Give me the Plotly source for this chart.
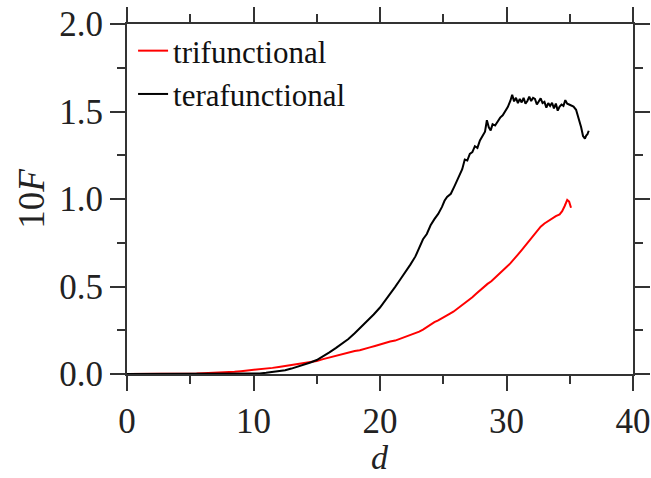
import plotly.graph_objects as go

# Force F versus separation d for two crosslinker functionalities
d_tri = [0, 1, 2, 3, 4, 5, 5.5, 6, 6.5, 7, 7.5, 8, 8.5, 9, 9.5, 10, 10.5, 11, 11.5, 12,
         12.5, 13, 13.5, 14, 14.5, 15, 15.5, 16, 16.4, 16.8, 17.2, 17.6, 18, 18.4, 18.8,
         19.2, 19.6, 20, 20.4, 20.8, 21.2, 21.6, 22, 22.4, 22.8, 23.1, 23.4, 23.7, 24,
         24.3, 24.6, 24.9, 25.2, 25.5, 25.8, 26.1, 26.4, 26.7, 27.0, 27.3, 27.6, 27.9,
         28.2, 28.5, 28.8, 29.1, 29.4, 29.7, 30.0, 30.3, 30.6, 30.9, 31.2, 31.5, 31.8,
         32.1, 32.4, 32.7, 33.0, 33.3, 33.6, 33.9, 34.2, 34.4, 34.6, 34.8, 34.95, 35.1]
F_tri = [0.000, 0.000, 0.000, 0.000, 0.001, 0.002, 0.003, 0.005, 0.006, 0.008, 0.009,
         0.011, 0.013, 0.016, 0.019, 0.022, 0.026, 0.030, 0.035, 0.040, 0.045, 0.050,
         0.055, 0.060, 0.066, 0.074, 0.085, 0.095, 0.100, 0.110, 0.116, 0.123, 0.131,
         0.136, 0.146, 0.152, 0.160, 0.170, 0.176, 0.186, 0.191, 0.202, 0.212, 0.221,
         0.236, 0.242, 0.254, 0.268, 0.284, 0.296, 0.306, 0.320, 0.330, 0.344, 0.356,
         0.372, 0.386, 0.404, 0.420, 0.438, 0.458, 0.478, 0.494, 0.515, 0.530, 0.552,
         0.570, 0.590, 0.612, 0.632, 0.655, 0.682, 0.708, 0.735, 0.762, 0.790, 0.818,
         0.842, 0.860, 0.875, 0.890, 0.902, 0.912, 0.930, 0.960, 0.995, 0.985, 0.950,
         0.960, 0.950]

d_tetra = [0, 2, 4, 6, 8, 9, 10, 10.5, 11, 11.5, 12, 12.5, 13, 13.5, 14, 14.5, 15, 15.5,
           16, 16.5, 17, 17.5, 18, 18.5, 19, 19.5, 20, 20.4, 20.8, 21.2, 21.6, 22, 22.4,
           22.8, 23.1, 23.4, 23.7, 24, 24.3, 24.6, 24.9, 25.1, 25.3, 25.6, 25.9, 26.2,
           26.5, 26.7, 26.9, 27.1, 27.3, 27.5, 27.7, 27.9, 28.1, 28.3, 28.45, 28.6, 28.75,
           28.9, 29.1, 29.3, 29.5, 29.7, 29.9, 30.1, 30.3, 30.45, 30.6, 30.75, 30.9, 31.05,
           31.2, 31.35, 31.5, 31.65, 31.8, 31.95, 32.1, 32.25, 32.4, 32.55, 32.7, 32.85,
           33.0, 33.15, 33.3, 33.45, 33.6, 33.75, 33.9, 34.05, 34.2, 34.35, 34.5, 34.65,
           34.8, 34.95, 35.1, 35.3, 35.5, 35.7, 35.9, 36.05, 36.2, 36.3, 36.4, 36.5]
F_tetra = [0.000, 0.000, 0.000, 0.000, 0.000, 0.001, 0.002, 0.003, 0.007, 0.011, 0.016,
           0.022, 0.031, 0.042, 0.054, 0.066, 0.080, 0.100, 0.124, 0.148, 0.173, 0.200,
           0.233, 0.268, 0.303, 0.340, 0.380, 0.418, 0.462, 0.498, 0.540, 0.580, 0.625,
           0.672, 0.718, 0.770, 0.800, 0.850, 0.885, 0.915, 0.955, 0.990, 1.012, 1.030,
           1.075, 1.120, 1.170, 1.225, 1.220, 1.258, 1.268, 1.302, 1.292, 1.335, 1.358,
           1.385, 1.450, 1.410, 1.392, 1.428, 1.420, 1.445, 1.465, 1.478, 1.500, 1.525,
           1.560, 1.595, 1.558, 1.578, 1.548, 1.572, 1.552, 1.578, 1.545, 1.560, 1.585,
           1.560, 1.578, 1.572, 1.540, 1.562, 1.575, 1.548, 1.555, 1.522, 1.548, 1.532,
           1.550, 1.518, 1.545, 1.505, 1.528, 1.540, 1.532, 1.565, 1.545, 1.540, 1.535,
           1.528, 1.510, 1.465, 1.410, 1.360, 1.345, 1.362, 1.370, 1.390]

x_ticks = [0, 10, 20, 30, 40]
y_ticks = [0.0, 0.5, 1.0, 1.5, 2.0]
y_tick_text = ["0.0", "0.5", "1.0", "1.5", "2.0"]

fig = go.Figure()
fig.add_trace(go.Scatter(x=d_tri, y=F_tri, mode="lines", name="trifunctional",
                         line=dict(color="#ff0000", width=2)))
fig.add_trace(go.Scatter(x=d_tetra, y=F_tetra, mode="lines", name="terafunctional",
                         line=dict(color="#000000", width=2)))
# Empty trace that carries the top/right frame axes
fig.add_trace(go.Scatter(x=[None], y=[None], xaxis="x2", yaxis="y2",
                         showlegend=False, hoverinfo="skip"))

axis_color = "#333333"
tick_font = dict(family="Liberation Serif", size=35, color="#222222")
ticks_common = dict(
    showline=True, linecolor=axis_color, linewidth=2,
    ticks="outside", ticklen=15, tickwidth=2, tickcolor=axis_color,
    showgrid=False, zeroline=False, tickfont=tick_font, automargin=False,
)
x_minor = dict(dtick=5, ticks="outside", ticklen=8, tickwidth=2, tickcolor=axis_color)
y_minor = dict(dtick=0.25, ticks="outside", ticklen=8, tickwidth=2, tickcolor=axis_color)

fig.update_layout(
    xaxis=dict(range=[0, 40], tickvals=x_ticks, minor=x_minor, **ticks_common),
    yaxis=dict(range=[0, 2], tickvals=y_ticks, ticktext=y_tick_text, minor=y_minor,
               **ticks_common),
    xaxis2=dict(range=[0, 40], tickvals=x_ticks, minor=x_minor, overlaying="x",
                side="top", anchor="y", showticklabels=False, **ticks_common),
    yaxis2=dict(range=[0, 2], tickvals=y_ticks, minor=y_minor, overlaying="y",
                side="right", anchor="x", showticklabels=False, **ticks_common),
    width=651, height=478,
    margin=dict(l=127, r=18, t=24, b=104),
    plot_bgcolor="white", paper_bgcolor="white",
    legend=dict(x=0.012, y=1.0, xanchor="left", yanchor="top",
                bgcolor="rgba(0,0,0,0)", borderwidth=0,
                font=dict(family="Liberation Serif", size=31, color="#111111"),
                tracegroupgap=0),
    annotations=[
        dict(text="<i>d</i>", font=dict(family="Liberation Serif", size=34, color="#222222"),
             xref="paper", yref="paper", x=0.5, y=-0.2375,
             xanchor="center", yanchor="middle", showarrow=False),
        dict(text="10<i>F</i>", font=dict(family="Liberation Serif", size=37, color="#222222"),
             xref="paper", yref="paper", x=-0.19, y=0.5,
             xanchor="center", yanchor="middle", textangle=-90, showarrow=False),
    ],
)

fig.write_html("out.html")
